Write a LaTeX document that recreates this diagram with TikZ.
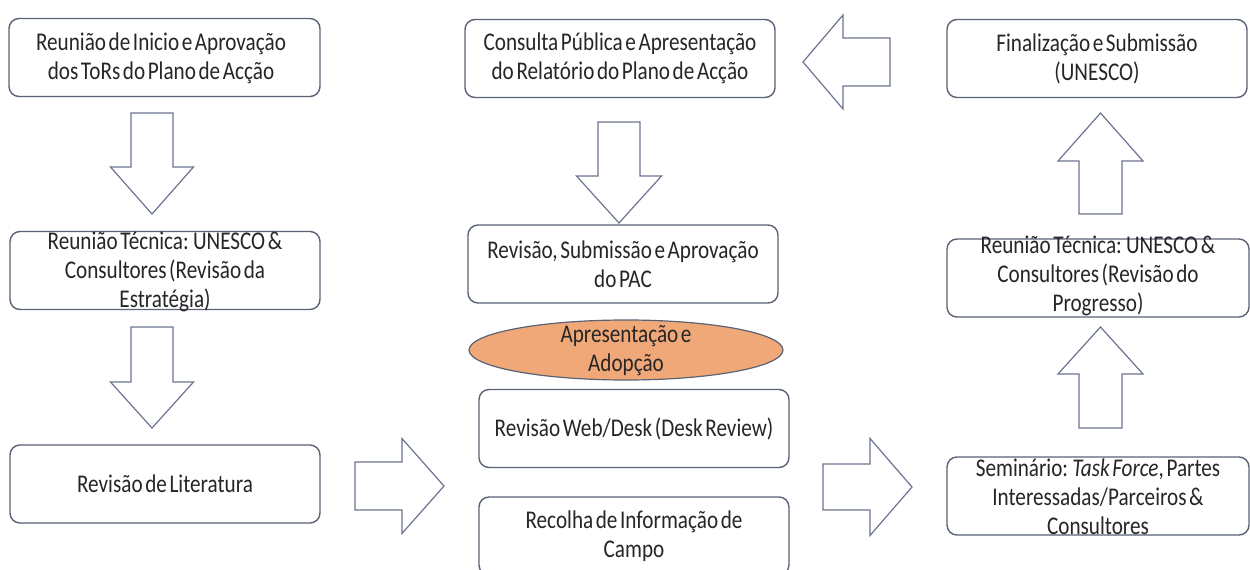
\documentclass[tikz,border=0pt]{standalone}
\usepackage{fontspec}
\setmainfont{Carlito}[FakeStretch=0.83, WordSpace=0.55]
\usetikzlibrary{shapes.geometric}
\definecolor{edge}{HTML}{5A6275}
\definecolor{arrowedge}{HTML}{6B7490}
\definecolor{ink}{HTML}{262626}
\definecolor{adopt}{HTML}{F0A878}

% block arrow: start point, direction angle, length, head length, shaft half width, head half width
\newcommand\blockarrow[6]{%
  \begin{scope}[shift={#1},rotate=#2]
    \draw[blockarrow] (0,-#5) -- ({#3-#4},-#5) -- ({#3-#4},-#6) -- (#3,0)
      -- ({#3-#4},#6) -- ({#3-#4},#5) -- (0,#5) -- cycle;
  \end{scope}}

\begin{document}
\begin{tikzpicture}[x=1pt,y=-1pt,
  stage/.style={draw=edge, line width=1.4pt, rounded corners=10pt, fill=white,
    minimum width=#1, minimum height=78pt, inner sep=0pt},
  stage/.default=310pt,
  caption/.style={text=ink, align=center, inner sep=0pt,
    font=\fontsize{25.5}{29}\selectfont},
  blockarrow/.style={draw=arrowedge, line width=1.2pt, fill=white, line join=miter},
  oval/.style={ellipse, draw=edge, line width=1.2pt, fill=adopt,
    minimum width=314pt, minimum height=60pt, inner sep=0pt}]
\useasboundingbox (0,0) rectangle (1250,570);
\clip (0,0) rectangle (1250,570);

% left column
\node[stage=311pt] (A) at (164.5,57.5) {};
\node[caption] (A-t) at (161,58) {Reunião de Inicio e Aprovação\\dos ToRs do Plano de Acção};
\node[stage] (B) at (165,270.5) {};
\node[caption] (B-t) at (165,272) {Reunião Técnica: UNESCO \&\\Consultores (Revisão da\\Estratégia)};
\node[stage] (C) at (165,484) {};
\node[caption] (C-t) at (C) {Revisão de Literatura};

% middle column
\node[stage] (D) at (620,58.5) {};
\node[caption] (D-t) at (D) {Consulta Pública e Apresentação\\do Relatório do Plano de Acção};
\node[stage] (E) at (623,264) {};
\node[caption] (E-t) at (E) {Revisão, Submissão e Aprovação\\do PAC};
\node[oval] (O) at (626,350) {};
\node[caption] (O-t) at (626,351) {Apresentação e\\Adopção};
\node[stage] (F) at (634,428.5) {};
\node[caption] (F-t) at (F) {Revisão Web/Desk (Desk Review)};
\node[stage] (G) at (634,536) {};
\node[caption] (G-t) at (G) {Recolha de Informação de\\Campo};

% right column
\node[stage=300pt] (H) at (1097,58.5) {};
\node[caption] (H-t) at (H) {Finalização e Submissão\\(UNESCO)};
\node[stage=302pt] (I) at (1098,278) {};
\node[caption] (I-t) at (1098,276) {Reunião Técnica: UNESCO \&\\Consultores (Revisão do\\Progresso)};
\node[stage=302pt] (J) at (1098,496) {};
\node[caption] (J-t) at (1098,497) {Seminário: \textit{Task Force}, Partes\\Interessadas/Parceiros \&\\Consultores};

% flow arrows
\blockarrow{(152,113)}{-90}{101}{47}{21}{41.5}
\blockarrow{(152,327)}{-90}{101}{46}{21}{41.5}
\blockarrow{(355,486)}{0}{89}{42}{24}{47.5}
\blockarrow{(619,122)}{-90}{101}{47}{21}{42.5}
\blockarrow{(823,487)}{0}{89}{42}{23}{48.5}
\blockarrow{(1100.5,428)}{90}{101}{47}{21.5}{42.5}
\blockarrow{(1100.5,214)}{90}{101}{48}{21.5}{42.5}
\blockarrow{(890,62)}{180}{87}{40}{24}{47}
\end{tikzpicture}
\end{document}
